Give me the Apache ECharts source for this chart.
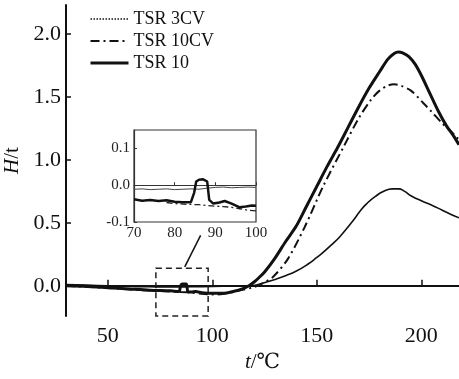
<!DOCTYPE html>
<html><head><meta charset="utf-8">
<script src="https://cdn.jsdelivr.net/npm/echarts@6/dist/echarts.min.js"></script>
<style>html,body{margin:0;padding:0;background:#fff}#c{width:459px;height:379px}</style>
</head><body><div id="c"></div>
<script>
// ---- main chart data (t in °C, H/t) ----
var tsr3cvT = [30,40,50,60,70,80,90,100,110,118,122,126,130,135,140,146,150,153,157,161,167,171,174,178,182,186,189,192,195,200,205,210,215,218];
var tsr3cvH = [0.01,0.005,0.0,-0.005,-0.008,-0.01,-0.008,-0.005,-0.002,0.0,0.01,0.03,0.05,0.08,0.115,0.175,0.225,0.265,0.325,0.39,0.51,0.60,0.655,0.71,0.75,0.77,0.77,0.75,0.715,0.675,0.64,0.60,0.56,0.54];

var tsr10cvT = [30,40,50,60,70,80,85,90,95,100,105,110,115,120,124,129,136,144,153,163,170,176,180,184,187,190,195,201,205,210,214,218];
var tsr10cvH = [0.0,-0.008,-0.018,-0.028,-0.038,-0.045,-0.05,-0.055,-0.063,-0.07,-0.065,-0.05,-0.03,-0.01,0.02,0.07,0.21,0.46,0.79,1.11,1.33,1.48,1.55,1.59,1.60,1.59,1.55,1.45,1.38,1.29,1.23,1.16];

var tsr10T = [30,40,50,60,70,80,84,84.8,85.5,87.5,88.3,90,92,95,100,105,110,115,117.5,120,122,125,130,135,140,145,150,155,160,165,170,175,180,184,187,189,191,194,197,200,204,208,212,215,218];
var tsr10H = [0.0,-0.005,-0.015,-0.025,-0.035,-0.04,-0.045,0.0,0.015,0.015,-0.045,-0.05,-0.045,-0.055,-0.06,-0.06,-0.045,-0.02,0.0,0.03,0.06,0.11,0.22,0.35,0.47,0.63,0.79,0.95,1.10,1.26,1.42,1.57,1.70,1.80,1.845,1.857,1.85,1.82,1.76,1.67,1.53,1.39,1.27,1.20,1.12];

// ---- inset data (70–100 °C) ----
var inThinT = [70,72,74,76,78,80,82,84,86,88,90,92,94,96,98,100];
var inThinH = [-0.011,-0.01,-0.012,-0.011,-0.01,-0.012,-0.011,-0.01,-0.011,-0.008,-0.006,-0.005,-0.007,-0.006,-0.005,-0.006];
var inThickT = [70,72,74,76,78,80,82,84,84.8,85.3,86,87,88,88.5,89.5,91,92.3,94,96,97.5,99,100];
var inThickH = [-0.038,-0.042,-0.04,-0.043,-0.041,-0.045,-0.046,-0.046,-0.02,0.01,0.015,0.016,0.01,-0.04,-0.05,-0.047,-0.043,-0.05,-0.06,-0.058,-0.055,-0.056];
var inDashT = [78,80,83,86,88,90,92,94,96,98,100];
var inDashH = [-0.047,-0.05,-0.052,-0.053,-0.055,-0.057,-0.058,-0.06,-0.064,-0.068,-0.07];

var legendNames = ['TSR 3CV','TSR 10CV','TSR 10'];
var xTicks = [50,100,150,200];
var yTicks = [0,0.5,1,1.5,2];
var inYTicks = [-0.1,0,0.1];

function pairs(a,b){return a.map(function(v,i){return [v,b[i]];});}
var F = '"Liberation Serif","DejaVu Serif",serif';
var dotStyle = {color:'#111',width:1.5,type:[1.5,1.5]};
var dashDotStyle = {color:'#111',width:2,type:[9,4,2,4]};
var solidStyle = {color:'#111',width:3};

var chart = echarts.init(document.getElementById('c'));
chart.setOption({
  animation:false,
  backgroundColor:'#fff',
  legend:{
    data:[
      {name:legendNames[0],lineStyle:dotStyle},
      {name:legendNames[1],lineStyle:dashDotStyle},
      {name:legendNames[2],lineStyle:solidStyle}
    ],
    orient:'vertical', left:84, top:5, itemWidth:38, itemHeight:14, itemGap:4,
    itemStyle:{opacity:0},
    textStyle:{fontFamily:F,fontSize:18,color:'#111'},
    selectedMode:false
  },
  grid:[
    {left:66,right:0,top:5,bottom:63,show:false,outerBoundsMode:'none',containLabel:false},
    {left:134,top:130,width:122,height:92,show:true,backgroundColor:'#fff',borderColor:'#333',borderWidth:1.2,z:5,outerBoundsMode:'none',containLabel:false}
  ],
  xAxis:[
    {gridIndex:0,type:'value',min:30,max:218,
     axisLine:{lineStyle:{color:'#111',width:2}},
     axisTick:{inside:true,length:6,customValues:xTicks,lineStyle:{width:1.5}},
     axisLabel:{customValues:xTicks,fontFamily:F,fontSize:22,color:'#111',margin:9},
     splitLine:{show:false},
     name:'{i|t}/℃',nameLocation:'middle',nameGap:34,
     nameTextStyle:{fontFamily:F,fontSize:21,color:'#111',rich:{i:{fontStyle:'italic',fontFamily:F,fontSize:21}}}
    },
    {gridIndex:1,type:'value',min:70,max:100,interval:10,z:6,
     axisLine:{lineStyle:{color:'#333',width:1.2}},
     axisTick:{inside:true,length:3},
     axisLabel:{fontFamily:F,fontSize:15,color:'#222',margin:4},
     splitLine:{show:false}}
  ],
  yAxis:[
    {gridIndex:0,type:'value',min:-0.24,max:2.23,
     axisLine:{show:true,lineStyle:{color:'#111',width:2}},
     axisTick:{show:true,inside:true,length:5,customValues:yTicks,lineStyle:{width:1.5}},
     axisLabel:{customValues:yTicks,fontFamily:F,fontSize:22,color:'#111',margin:5,
       formatter:function(v){return v.toFixed(1);}},
     splitLine:{show:false},
     name:'{i|H}/t',nameLocation:'middle',nameGap:38,nameRotate:90,
     nameTextStyle:{fontFamily:F,fontSize:21,color:'#111',rich:{i:{fontStyle:'italic',fontFamily:F,fontSize:21}}}
    },
    {gridIndex:1,type:'value',min:-0.1,max:0.15,z:6,
     axisLine:{show:true,lineStyle:{color:'#333',width:1.2}},
     axisTick:{show:true,inside:true,length:3,customValues:inYTicks},
     axisLabel:{customValues:inYTicks,fontFamily:F,fontSize:15,color:'#222',margin:4,
       formatter:function(v){return v.toFixed(1);}},
     splitLine:{show:false}}
  ],
  series:[
    {name:legendNames[0],type:'line',xAxisIndex:0,yAxisIndex:0,symbol:'none',color:'#111',smooth:0.5,
     data:pairs(tsr3cvT,tsr3cvH),lineStyle:{color:'#111',width:1.6},
     markArea:{silent:true,itemStyle:{color:'rgba(0,0,0,0)',borderColor:'#222',borderWidth:1.5,borderType:[6,4]},
       data:[[{coord:[73,0.14]},{coord:[98,-0.24]}]]},
     markLine:{silent:true,symbol:['none','arrow'],symbolSize:[0,9],label:{show:false},
       lineStyle:{color:'#111',width:1.5,type:'solid'},
       data:[[{coord:[86.8,0.15]},{coord:[94.4,0.40]}]]}
    },
    {name:legendNames[1],type:'line',xAxisIndex:0,yAxisIndex:0,symbol:'none',color:'#111',smooth:0.3,
     data:pairs(tsr10cvT,tsr10cvH),lineStyle:dashDotStyle},
    {name:legendNames[2],type:'line',xAxisIndex:0,yAxisIndex:0,symbol:'none',color:'#111',smooth:0.3,
     data:pairs(tsr10T,tsr10H),lineStyle:solidStyle},
    {name:'in3cv',type:'line',xAxisIndex:1,yAxisIndex:1,symbol:'none',z:7,
     data:pairs(inThinT,inThinH),lineStyle:{color:'#444',width:1}},
    {name:'in10cv',type:'line',xAxisIndex:1,yAxisIndex:1,symbol:'none',z:7,
     data:pairs(inDashT,inDashH),lineStyle:{color:'#222',width:1.3,type:[6,3,2,3]}},
    {name:'in10',type:'line',xAxisIndex:1,yAxisIndex:1,symbol:'none',z:8,
     data:pairs(inThickT,inThickH),lineStyle:{color:'#111',width:2.5}}
  ]
});
</script></body></html>
